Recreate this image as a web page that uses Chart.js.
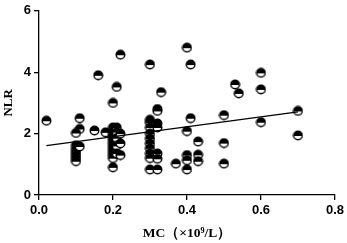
<!DOCTYPE html>
<html>
<head>
<meta charset="utf-8">
<script src="https://cdn.jsdelivr.net/npm/chart.js@4"></script>
<style>
html,body{margin:0;padding:0;background:#fff;}
#wrap{width:347px;height:243px;position:relative;}
</style>
</head>
<body>
<div id="wrap"><canvas id="c" width="347" height="243"></canvas></div>
<script>
// Scatter data: MC (x10^9/L) vs NLR
const mcValues = [
  0.02, 0.11, 0.11, 0.10, 0.15, 0.18,
  0.10, 0.10, 0.10, 0.10, 0.10, 0.10, 0.11,
  0.16,
  0.20, 0.20, 0.20, 0.20, 0.20, 0.20, 0.20, 0.20, 0.20, 0.20, 0.20, 0.20, 0.20,
  0.21, 0.21, 0.21, 0.21, 0.21, 0.21,
  0.22, 0.22, 0.22, 0.22,
  0.30, 0.30, 0.30, 0.30, 0.30, 0.30, 0.30, 0.30, 0.30, 0.30, 0.30,
  0.32, 0.32, 0.32, 0.32, 0.32, 0.32, 0.32,
  0.33, 0.37,
  0.40, 0.40, 0.40, 0.40, 0.40,
  0.41, 0.41,
  0.43, 0.43, 0.43,
  0.50, 0.50, 0.50,
  0.53, 0.54,
  0.60, 0.60, 0.60,
  0.70, 0.70
];
const nlrValues = [
  2.42, 2.50, 2.15, 2.02, 2.10, 2.04,
  1.62, 1.50, 1.40, 1.30, 1.20, 1.10, 1.58,
  3.90,
  3.00, 2.20, 2.10, 2.00, 1.90, 1.80, 1.70, 1.60, 1.50, 1.40, 1.30, 1.20, 0.90,
  3.52, 2.20, 2.05, 1.85, 1.60, 1.35,
  4.57, 2.00, 1.68, 1.30,
  4.25, 2.45, 2.36, 2.20, 2.00, 1.84, 1.68, 1.52, 1.35, 1.20, 0.83,
  2.80, 2.74, 2.33, 2.20, 1.35, 1.18, 0.83,
  3.35, 1.02,
  4.80, 2.08, 1.30, 1.13, 0.83,
  4.25, 2.50,
  1.74, 1.31, 1.10,
  2.60, 1.69, 1.02,
  3.60, 3.31,
  3.98, 3.44, 2.37,
  2.74, 1.94
];
// Fitted regression line end points
const fitX = [0.02, 0.70];
const fitY = [1.61, 2.71];
// Axis ticks
const xTicks = [0.0, 0.2, 0.4, 0.6, 0.8];
const yTicks = [0, 2, 4, 6];

// marker: circle, top half black, bottom half white
function makeMarker(){
  const s = 11, r = 4.3, c = s/2;
  const cv = document.createElement('canvas');
  cv.width = s; cv.height = s;
  const g = cv.getContext('2d');
  g.beginPath(); g.arc(c, c, r, 0, Math.PI*2); g.fillStyle = '#fff'; g.fill();
  g.save();
  g.beginPath(); g.rect(0, 0, s, c + 0.6); g.clip();
  g.beginPath(); g.arc(c, c, r, 0, Math.PI*2); g.fillStyle = '#000'; g.fill();
  g.restore();
  g.beginPath(); g.arc(c, c, r, 0, Math.PI*2); g.lineWidth = 1.4; g.strokeStyle = '#000'; g.stroke();
  return cv;
}
const marker = makeMarker();

const points = mcValues.map((x, i) => ({x: x, y: nlrValues[i]}));
const fitLine = fitX.map((x, i) => ({x: x, y: fitY[i]}));

new Chart(document.getElementById('c'), {
  type: 'scatter',
  data: {
    datasets: [
      {
        data: points,
        pointStyle: marker,
        pointRadius: 5,
        pointHoverRadius: 5,
        order: 2
      },
      {
        type: 'line',
        data: fitLine,
        borderColor: '#000',
        borderWidth: 1.2,
        pointRadius: 0,
        fill: false,
        order: 1
      }
    ]
  },
  options: {
    responsive: false,
    animation: false,
    events: [],
    layout: {padding: {top: 9, right: 12, bottom: 0, left: 0}},
    plugins: {legend: {display: false}, tooltip: {enabled: false}},
    scales: {
      x: {
        type: 'linear',
        min: 0, max: 0.8,
        afterBuildTicks: (ax) => { ax.ticks = xTicks.map(v => ({value: v})); },
        afterFit: (ax) => { ax.height = 48; },
        border: {display: true, color: '#000', width: 1.3},
        grid: {display: true, drawOnChartArea: false, drawTicks: true, tickLength: 5, color: '#000', lineWidth: 1.3},
        ticks: {
          color: '#000',
          font: {family: 'Liberation Sans, Arial', size: 13, weight: 'bold'},
          padding: 3,
          callback: (v) => Number(v).toFixed(1),
          maxRotation: 0
        },
        title: {
          display: true,
          text: 'MC（×10⁹/L）',
          color: '#000',
          font: {family: 'Liberation Serif, Times New Roman, serif', size: 13.5, weight: 'bold'},
          padding: {top: 4, bottom: 1}
        }
      },
      y: {
        type: 'linear',
        min: 0, max: 6,
        afterBuildTicks: (ax) => { ax.ticks = yTicks.map(v => ({value: v})); },
        afterFit: (ax) => { ax.width = 39; },
        border: {display: true, color: '#000', width: 1.3},
        grid: {display: true, drawOnChartArea: false, drawTicks: true, tickLength: 5, color: '#000', lineWidth: 1.3},
        ticks: {
          color: '#000',
          font: {family: 'Liberation Sans, Arial', size: 13, weight: 'bold'},
          padding: 3
        },
        title: {
          display: true,
          text: 'NLR',
          color: '#000',
          font: {family: 'Liberation Serif, Times New Roman, serif', size: 13, weight: 'bold'},
          padding: {top: 1, bottom: 0}
        }
      }
    }
  }
});
</script>
</body>
</html>
